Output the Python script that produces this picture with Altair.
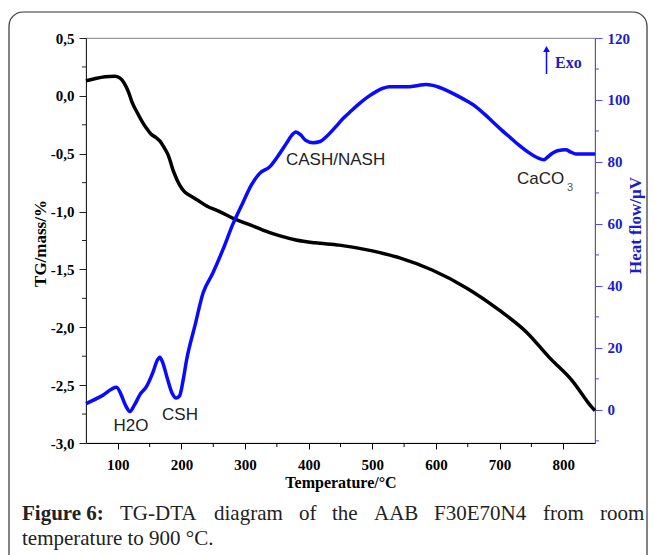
import altair as alt
import pandas as pd

# ---- TG curve: mass change (%) vs temperature (°C)
tg_temp = [50, 65, 80, 95, 103, 110, 117, 122, 130, 138, 145, 152, 160, 166, 172,
           179, 188, 197, 205, 213, 225, 239, 260, 286, 310, 328, 355, 380, 410,
           448, 500, 543, 594, 648, 699, 742, 778, 814, 845, 850]
tg_mass = [0.13, 0.15, 0.165, 0.17, 0.155, 0.11, 0.03, -0.05, -0.14, -0.22, -0.28,
           -0.33, -0.36, -0.39, -0.44, -0.51, -0.66, -0.77, -0.83, -0.86, -0.90,
           -0.95, -1.00, -1.07, -1.12, -1.16, -1.21, -1.245, -1.27, -1.29, -1.34,
           -1.40, -1.505, -1.66, -1.85, -2.04, -2.26, -2.46, -2.69, -2.72]

# ---- DTA curve: heat flow (µV) vs temperature (°C)
dta_temp = [50, 75, 98, 105, 112, 119, 126, 135, 145, 155, 162, 166, 171, 178, 185,
            192, 197, 203, 208, 221, 234, 249, 265, 281, 296, 310, 323, 339, 351,
            365, 373, 380, 387, 395, 407, 418, 428, 441, 454, 467, 480, 493, 506,
            517, 527, 545, 558, 572, 584, 595, 605, 620, 637, 650, 663, 676, 689,
            702, 715, 730, 746, 758, 765, 770, 775, 783, 791, 804, 812, 820, 835, 850]
dta_heat = [2.0, 4.5, 7.3, 5.0, 1.5, -0.5, 1.5, 5.0, 7.5, 12.0, 16.0, 17.0, 15.0,
            10.0, 5.5, 3.8, 4.5, 10.0, 16.0, 27.0, 37.7, 44.0, 51.6, 60.0, 66.6,
            72.6, 76.3, 78.5, 81.7, 86.0, 88.5, 89.7, 88.8, 87.0, 86.2, 86.6, 88.2,
            91.0, 94.0, 96.5, 98.9, 101.0, 102.7, 103.8, 104.3, 104.3, 104.3, 104.7,
            105.0, 104.7, 104.1, 102.8, 101.0, 99.5, 97.8, 95.5, 93.0, 90.5, 88.2,
            85.5, 83.0, 81.5, 80.9, 80.7, 81.5, 82.8, 83.6, 83.9, 83.2, 82.6, 82.6,
            82.6]

# ---- axis ticks
temp_ticks = [100, 200, 300, 400, 500, 600, 700, 800]
temp_minor = [150, 250, 350, 450, 550, 650, 750]
tg_ticks = [0.5, 0.0, -0.5, -1.0, -1.5, -2.0, -2.5, -3.0]
tg_minor = [0.25, -0.25, -0.75, -1.25, -1.75, -2.25, -2.75]
heat_ticks = [0, 20, 40, 60, 80, 100, 120]
heat_minor = [-10, 10, 30, 50, 70, 90, 110]

SERIF = "Liberation Serif"
SANS = "Liberation Sans"
BLUE = "#0a0aff"
BLUE_TXT = "#1c1cc8"
BLUE_AX = "#4a4aff"

W, H = 509, 405

tg = pd.DataFrame({"T": tg_temp, "v": tg_mass})
dta = pd.DataFrame({"T": dta_temp, "h": dta_heat})

x_axis = alt.Axis(
    values=temp_ticks, title="Temperature/°C", grid=False,
    labelFont=SERIF, labelFontSize=15, labelFontWeight="bold", labelColor="black",
    titleFont=SERIF, titleFontSize=16, titleFontWeight="bold", titleColor="black",
    tickSize=6, tickColor="black", domainColor="black", labelPadding=8,
    titlePadding=2,
)
x_enc = alt.X("T:Q", scale=alt.Scale(domain=[50, 850], nice=False, zero=False),
              axis=x_axis)

left_axis = alt.Axis(
    orient="left", values=tg_ticks, grid=False,
    labelExpr="(datum.value < 0 ? '-' : '') + replace(format(abs(datum.value), '.1f'), '.', ',')",
    labelFont=SERIF, labelFontSize=15, labelFontWeight="bold", labelColor="black",
    tickSize=7, tickColor="#222", domainColor="#222", labelPadding=5,
    title="TG/mass/%", titleFont=SERIF, titleFontSize=17, titleFontWeight="bold",
    titleColor="black", titleAngle=270, titleX=-46, titleY=205,
    titleAlign="center", titleBaseline="middle",
)
y_tg = alt.Y("v:Q", scale=alt.Scale(domain=[-3.0, 0.5], nice=False, zero=False),
             axis=left_axis)

right_axis = alt.Axis(
    orient="right", values=heat_ticks, grid=False,
    labelFont=SERIF, labelFontSize=15, labelFontWeight="bold", labelColor=BLUE_TXT,
    tickSize=7, tickColor=BLUE_AX, domainColor=BLUE_AX, labelPadding=5,
    title="Heat flow/µV", titleFont=SERIF, titleFontSize=17, titleFontWeight="bold",
    titleColor=BLUE_TXT, titleAngle=270, titleX=40, titleY=187,
    titleAlign="center", titleBaseline="middle",
)
y_heat = alt.Y("h:Q", scale=alt.Scale(domain=[-10.7, 120], nice=False, zero=False),
               axis=right_axis)

# TG curve with its minor ticks on the left axis
tg_line = alt.Chart(tg).mark_line(color="black", strokeWidth=3.5,
                                  interpolate="monotone").encode(x=x_enc, y=y_tg)
tg_minor_ticks = alt.Chart(pd.DataFrame({"v": tg_minor})).mark_rule(
    color="#222", strokeWidth=1).encode(y=y_tg, x=alt.value(-4), x2=alt.value(0))
left_group = alt.layer(tg_line, tg_minor_ticks)

# DTA curve with its minor ticks on the right axis
dta_line = alt.Chart(dta).mark_line(color=BLUE, strokeWidth=3.5,
                                    interpolate="monotone").encode(x=x_enc, y=y_heat)
heat_minor_ticks = alt.Chart(pd.DataFrame({"h": heat_minor})).mark_rule(
    color=BLUE_AX, strokeWidth=1).encode(y=y_heat, x=alt.value(W), x2=alt.value(W + 4))
right_group = alt.layer(dta_line, heat_minor_ticks)

temp_minor_ticks = alt.Chart(pd.DataFrame({"T": temp_minor})).mark_rule(
    color="black", strokeWidth=1).encode(x=x_enc, y=alt.value(H), y2=alt.value(H + 4))

base = alt.Chart(pd.DataFrame({"k": [0]}))


def label(text, x, y, size=17, align="center", font=SANS, color="#222",
          weight="normal", baseline="middle"):
    return base.mark_text(text=text, font=font, fontSize=size, color=color,
                          fontWeight=weight, align=align, baseline=baseline).encode(
        x=alt.value(x), y=alt.value(y))


# peak annotations
annotations = [
    label("H2O", 45, 388),
    label("CSH", 94, 377),
    label("CASH/NASH", 200, 122, align="left"),
    label("CaCO", 431, 141, align="left"),
    label("3", 481, 150, size=11, align="left", color="#555"),
]

# exotherm direction marker
exo_shaft = base.mark_rule(color=BLUE, strokeWidth=1.5).encode(
    x=alt.value(460.5), y=alt.value(14), y2=alt.value(36))
exo_head = base.mark_point(shape="triangle-up", filled=True, color=BLUE, size=45,
                           opacity=1).encode(x=alt.value(460.5), y=alt.value(11))
exo_text = label("Exo", 469, 25, size=16, align="left", font=SERIF, color=BLUE_TXT,
                 weight="bold")

# figure frame and caption
frame = base.mark_rect(fillOpacity=0, stroke="#333", strokeWidth=1.2,
                       cornerRadius=14).encode(
    x=alt.value(-77), x2=alt.value(561), y=alt.value(-26), y2=alt.value(540))

cap_words = ["Figure 6:", "TG-DTA", "diagram", "of", "the", "AAB", "F30E70N4",
             "from", "room"]
cap_x = [22, 120, 214, 299, 332, 374, 434, 543, 600]
caption = []
for i, (wd, cx) in enumerate(zip(cap_words, cap_x)):
    caption.append(label(wd, cx - 86, 482, size=21, align="left", font=SERIF,
                         color="#222", weight="bold" if i == 0 else "normal",
                         baseline="alphabetic"))
caption.append(label("temperature to 900 °C.", 22 - 86, 507, size=21, align="left",
                     font=SERIF, color="#222", baseline="alphabetic"))

chart = alt.layer(
    left_group, right_group, temp_minor_ticks, *annotations,
    exo_shaft, exo_head, exo_text, frame, *caption,
).resolve_scale(y="independent").properties(
    width=W, height=H,
    autosize="none",
    padding={"left": 86, "top": 38, "right": 60, "bottom": 112},
    background="white",
).configure_view(stroke="#999", strokeWidth=1.2)

chart.save("out.html", embed_options={"renderer": "svg", "actions": False})
